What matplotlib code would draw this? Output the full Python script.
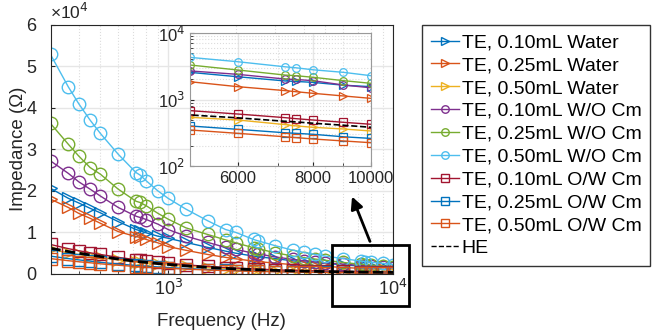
import matplotlib
matplotlib.use('Agg')
import matplotlib.pyplot as plt
import numpy as np
from matplotlib.patches import Rectangle, FancyArrowPatch
from matplotlib.ticker import FixedLocator, NullFormatter, FuncFormatter

plt.rcParams['font.family'] = ['Liberation Sans', 'DejaVu Sans']

# data
freq = [300, 360, 400, 450, 500, 600, 720, 750, 800, 900, 1000, 1200, 1500, 1800, 2000,
        2400, 2500, 3000, 3600, 4000, 4500, 5000, 6000, 7200, 7500, 8000, 9000, 10000]

water_010 = [20600, 18200, 17100, 15800, 14700, 12600, 10700, 10400, 9900, 9100, 8600, 7600, 6400, 5500, 5000,
             4300, 4150, 3700, 3150, 2900, 2700, 2560, 2200, 1900, 1870, 1810, 1640, 1560]
water_025 = [18000, 16000, 14600, 13400, 12200, 10200, 9000, 8800, 8300, 7500, 6600, 5700, 4700, 4000, 3650,
             3100, 3000, 2600, 2250, 2100, 1950, 1850, 1560, 1360, 1310, 1240, 1130, 1040]
water_050 = [5900, 5100, 4700, 4300, 4000, 3400, 2900, 2800, 2650, 2400, 2200, 1850, 1500, 1280, 1170,
             1000, 960, 820, 710, 650, 600, 540, 492, 419, 401, 382, 360, 336]
wo_010 = [27200, 24200, 22200, 20400, 18750, 16000, 13900, 13600, 13100, 12000, 10700, 9100, 7600, 6400, 5900,
          5000, 4850, 4100, 3500, 3200, 2950, 2690, 2390, 2030, 2000, 1920, 1650, 1500]
wo_025 = [36200, 31200, 28400, 25600, 24000, 20400, 17500, 17200, 16400, 14600, 13200, 11100, 9500, 8200, 7500,
          6300, 6100, 5100, 4300, 3950, 3600, 3300, 2780, 2330, 2280, 2160, 1920, 1750]
wo_050 = [52800, 45000, 41000, 37000, 33800, 28800, 24400, 23800, 22400, 20000, 18200, 15600, 12800, 10700, 10000,
          8300, 8000, 6800, 5700, 5200, 4700, 4300, 3700, 3100, 3000, 2800, 2560, 2280]
ow_010 = [7100, 6100, 5600, 5100, 4700, 4000, 3450, 3330, 3150, 2850, 2600, 2200, 1820, 1560, 1420,
          1220, 1180, 1000, 870, 800, 730, 680, 605, 533, 515, 492, 454, 424]
ow_025 = [4300, 3700, 3400, 3100, 2800, 2400, 2050, 1980, 1880, 1700, 1550, 1320, 1080, 920, 840,
          720, 695, 600, 520, 475, 435, 400, 356, 316, 310, 300, 275, 260]
ow_050 = [3700, 3200, 2950, 2700, 2450, 2100, 1800, 1740, 1650, 1500, 1370, 1170, 960, 820, 750,
          640, 620, 530, 460, 420, 385, 348, 310, 275, 267, 255, 238, 224]
he = [6200, 5400, 5000, 4600, 4200, 3600, 3050, 2950, 2800, 2500, 2300, 1950, 1600, 1350, 1230,
      1050, 1010, 870, 750, 690, 640, 585, 530, 470, 460, 440, 410, 382]

labels = ['TE, 0.10mL Water', 'TE, 0.25mL Water', 'TE, 0.50mL Water',
          'TE, 0.10mL W/O Cm', 'TE, 0.25mL W/O Cm', 'TE, 0.50mL W/O Cm',
          'TE, 0.10mL O/W Cm', 'TE, 0.25mL O/W Cm', 'TE, 0.50mL O/W Cm', 'HE']
series = [water_010, water_025, water_050, wo_010, wo_025, wo_050, ow_010, ow_025, ow_050]
colors = ['#0072BD', '#D95319', '#EDB120', '#7E2F8E', '#77AC30', '#4DBEEE', '#A2142F', '#0072BD', '#D95319']
markers = ['>', '>', '>', 'o', 'o', 'o', 's', 's', 's']

grey = '#262626'
fig = plt.figure(figsize=(6.57, 3.35), dpi=100)

# main axes
ax = fig.add_axes([50.5/657, 61/335, 342.5/657, 249.5/335])
handles = []
for y, c, m, lab in zip(series, colors, markers, labels):
    h, = ax.plot(freq, y, color=c, marker=m, mfc='none', ms=9, mew=1, lw=1, label=lab)
    handles.append(h)
h, = ax.plot(freq, he, 'k--', lw=2, label='HE')
handles.append(h)

ax.set_xscale('log')
ax.set_xlim(300, 1e4)
ax.set_ylim(0, 6e4)
ax.set_yticks(np.arange(0, 6.1e4, 1e4))
ax.yaxis.set_major_formatter(FuncFormatter(lambda v, p: '%d' % round(v / 1e4)))
ax.set_xticks([1e3, 1e4])
ax.set_xticklabels(['10$^3$', '10$^4$'])
ax.xaxis.set_minor_locator(FixedLocator([400, 500, 600, 700, 800, 900] + list(range(2000, 10000, 1000))))
ax.xaxis.set_minor_formatter(NullFormatter())
ax.tick_params(direction='in', labelsize=13, colors=grey, length=3)
ax.tick_params(axis='y', pad=10)
ax.tick_params(which='minor', direction='in', length=2, colors=grey)
ax.grid(True, which='major', color='#e6e6e6', lw=1)
ax.grid(True, which='minor', axis='x', color='#dcdcdc', ls=':', lw=0.8)
ax.set_axisbelow(True)
for s in ax.spines.values():
    s.set_color(grey)
ax.set_xlabel('Frequency (Hz)', fontsize=13.5, color=grey, labelpad=10)
ax.set_ylabel('Impedance (Ω)', fontsize=13.5, color=grey)
ax.yaxis.set_label_coords(-0.068, 0.5)
ax.text(0.0, 1.01, '×10$^4$', transform=ax.transAxes, fontsize=12.5, color=grey, va='bottom')

# inset
ins = fig.add_axes([190/657, 169/335, 181/657, 133/335])
for y, c, m in zip(series, colors, markers):
    ins.plot(freq, y, color=c, marker=m, mfc='none', ms=5.5, mew=0.9, lw=1)
ins.plot(freq, he, 'k--', lw=1.2)
ins.set_xscale('log')
ins.set_yscale('log')
ins.set_xlim(5000, 1e4)
ins.set_ylim(1e2, 1e4)
ins.set_xticks([6000, 8000, 10000])
ins.set_xticklabels(['6000', '8000', '10000'])
ins.xaxis.set_minor_locator(FixedLocator([5000, 7000, 9000]))
ins.xaxis.set_minor_formatter(NullFormatter())
ins.set_yticks([1e2, 1e3, 1e4])
ins.set_yticklabels(['10$^2$', '10$^3$', '10$^4$'])
ins.tick_params(direction='in', labelsize=12, colors=grey, length=3)
ins.tick_params(which='minor', direction='in', length=2, colors=grey)
ins.grid(True, which='major', color='#e6e6e6', lw=1)
ins.grid(True, which='minor', color='#dcdcdc', ls=':', lw=0.8)
ins.set_axisbelow(True)
for s in ins.spines.values():
    s.set_color('#999999')

# zoom box and arrow
fig.patches.append(Rectangle((332/657, 1 - 306/335), 77/657, 61/335, transform=fig.transFigure,
                             fill=False, ec='black', lw=2))
fig.patches.append(FancyArrowPatch((371/657, 1 - 244/335), (351/657, 1 - 194/335), transform=fig.transFigure,
                                   arrowstyle='-|>', mutation_scale=18, color='black', lw=2))

leg = fig.legend(handles=handles, loc='upper left', bbox_to_anchor=(422/657, 1 - 25/335),
                 borderaxespad=0, frameon=True, fancybox=False, edgecolor='black', fontsize=14,
                 handlelength=1.45, handletextpad=0.15, labelspacing=0.27, markerscale=0.6,
                 borderpad=0.45)
leg.get_frame().set_linewidth(1)
for t in leg.get_texts():
    t.set_color('black')
for lh in leg.legend_handles:
    lh.set_linewidth(1)

fig.savefig('out.png', dpi=100)
